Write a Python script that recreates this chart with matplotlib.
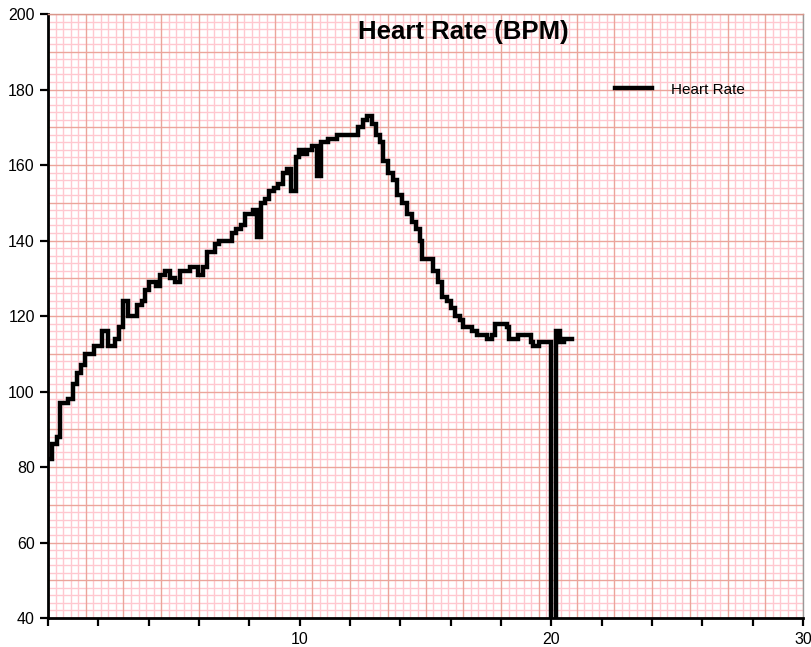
import matplotlib
matplotlib.use("Agg")
import matplotlib.pyplot as plt
from matplotlib.ticker import MultipleLocator, FuncFormatter
import numpy as np

plt.rcParams['font.family'] = ['Liberation Sans', 'DejaVu Sans']

# time (min) where the reading changes, and heart rate (bpm) from then on
t_min = [0.0, 0.15, 0.35, 0.48, 0.8, 1.0, 1.17, 1.31, 1.47, 1.84,
         2.16, 2.4, 2.66, 2.82, 3.0, 3.17, 3.52, 3.72, 3.85, 4.0,
         4.3, 4.45, 4.65, 4.86, 5.05, 5.24, 5.64, 5.95, 6.17, 6.33,
         6.64, 6.81, 7.32, 7.47, 7.65, 7.83, 8.16, 8.29, 8.45, 8.62,
         8.79, 8.98, 9.15, 9.32, 9.48, 9.65, 9.84, 9.98, 10.15, 10.3,
         10.47, 10.67, 10.83, 11.14, 11.47, 12.33, 12.53, 12.69, 12.86, 13.03,
         13.19, 13.32, 13.52, 13.69, 13.85, 14.05, 14.25, 14.45, 14.62, 14.78,
         14.87, 15.31, 15.51, 15.64, 15.84, 16.0, 16.17, 16.37, 16.5, 16.83,
         17.05, 17.45, 17.65, 17.78, 18.22, 18.33, 18.69, 19.2, 19.28, 19.5,
         19.98, 20.18, 20.34, 20.5, 20.8]
hr = [82, 86, 88, 97, 98, 102, 105, 107, 110, 112,
      116, 112, 114, 117, 124, 120, 123, 124, 127, 129,
      128, 131, 132, 130, 129, 132, 133, 131, 133, 137,
      139, 140, 142, 143, 144, 147, 148, 141, 150, 151,
      153, 154, 155, 158, 159, 153, 162, 164, 163, 164,
      165, 157, 166, 167, 168, 170, 172, 173, 171, 168,
      166, 161, 158, 156, 152, 150, 147, 145, 143, 140,
      135, 132, 129, 125, 124, 122, 120, 119, 117, 116,
      115, 114, 115, 118, 117, 114, 115, 113, 112, 113,
      0, 116, 113, 114, 114]

fig = plt.figure(figsize=(8.12, 6.47), dpi=100)
ax = fig.add_axes([0.0591, 0.0448, 0.9299, 0.9335])

# ECG-paper style grid (square cells, independent from ticks)
for gx in np.arange(0, 30.001, 0.3):
    major = abs(gx / 1.5 - round(gx / 1.5)) < 1e-6
    ax.axvline(gx, color='#eba59b' if major else '#ffc8d0', lw=1.0, zorder=1 if major else 0.5)
for gy in np.arange(40, 200.001, 2):
    major = gy % 10 == 0
    ax.axhline(gy, color='#eba59b' if major else '#ffc8d0', lw=1.0, zorder=1 if major else 0.5)

ax.plot(t_min, hr, drawstyle='steps-post', color='black', lw=3.2,
        solid_joinstyle='miter', label='Heart Rate', zorder=3)

ax.set_xlim(0, 30)
ax.set_ylim(40, 200)
ax.xaxis.set_major_locator(MultipleLocator(2))
ax.xaxis.set_major_formatter(FuncFormatter(lambda v, p: f"{v:.0f}" if v % 10 == 0 and v > 0 else ""))
ax.yaxis.set_major_locator(MultipleLocator(20))
ax.tick_params(axis='both', direction='out', length=6, width=1.6, labelsize=11.5, colors='black')
ax.tick_params(axis='x', pad=4)

ax.spines['left'].set_linewidth(2)
ax.spines['bottom'].set_linewidth(2)
ax.spines['top'].set_color('#d9968a')
ax.spines['top'].set_linewidth(1)
ax.spines['right'].set_color('#999999')
ax.spines['right'].set_linewidth(1)

ax.text(0.55, 0.97, 'Heart Rate (BPM)', transform=ax.transAxes, ha='center', va='center',
        fontsize=18.5, fontweight='bold')

ax.legend(loc='center left', bbox_to_anchor=(0.751, 0.875), frameon=False,
          borderpad=0, borderaxespad=0, handlelength=2.45, handletextpad=1.2,
          fontsize=11)

fig.savefig('out.png', dpi=100)
